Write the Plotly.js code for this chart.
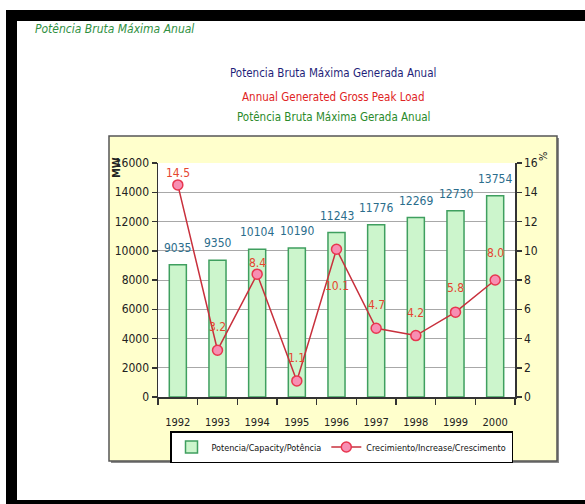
<!DOCTYPE html>
<html>
<head>
<meta charset="utf-8">
<script src="https://cdn.plot.ly/plotly-3.0.1.min.js"></script>
<style>html,body{margin:0;padding:0;background:#fff;}#chart{width:585px;height:504px;}</style>
</head>
<body>
<div id="chart"></div>
<script>
// ---- data ----
var years = ["1992","1993","1994","1995","1996","1997","1998","1999","2000"];
var capacity = [9035, 9350, 10104, 10190, 11243, 11776, 12269, 12730, 13754];
var growth = [14.5, 3.2, 8.4, 1.1, 10.1, 4.7, 4.2, 5.8, 8.0];
var growthLabels = ["14.5","3.2","8.4","1.1","10.1","4.7","4.2","5.8","8.0"];
var capacityName = "Potencia/Capacity/Potência";
var growthName = "Crecimiento/Increase/Crescimento";
var titleLines = ["Potencia Bruta Máxima Generada Anual", "Annual Generated Gross Peak Load", "Potência Bruta Máxima Gerada Anual"];
var headerText = "Potência Bruta Máxima Anual";

// ---- style / layout helpers ----
var W = 585, H = 504;
var L = 158, R = 515, T = 163, B = 397;
function px(x){ return (x - L) / (R - L); }
function py(y){ return (B - y) / (B - T); }
var FONT = "'Liberation Sans Narrow', 'Arial Narrow', 'DejaVu Sans Condensed', 'Liberation Sans', sans-serif";
var labelShift = [12, 23, 11, 23, -37, 23, 23, 24, 27];
var barLabelShift = 17;

function rect(x0, y0, x1, y1, fill, line, lw){
  return {type:'rect', xref:'paper', yref:'paper', layer:'below',
    x0:px(x0), x1:px(x1), y0:py(y1), y1:py(y0),
    fillcolor:fill, line:{color:line||fill, width:lw||0}};
}

var traces = [
  {type:'bar', x:years, y:capacity, name:capacityName,
   marker:{color:'#ccf5cc', line:{color:'#3f9f5f', width:1.5}}},
  {type:'scatter', mode:'lines+markers', x:years, y:growth, yaxis:'y2', name:growthName,
   line:{color:'#c8303c', width:1.5},
   marker:{symbol:'circle', size:10, color:'#f78fb3', line:{color:'#e8364f', width:1.5}},
   cliponaxis:false}
];

var annotations = [];
for (var k = 0; k < years.length; k++) {
  annotations.push({x:k, y:capacity[k], xref:'x', yref:'y', text:String(capacity[k]),
    showarrow:false, yshift:barLabelShift, font:{family:FONT, size:12, color:'#2b6d8c'}});
}
for (var i = 0; i < years.length; i++) {
  annotations.push({x:i, y:growth[i], xref:'x', yref:'y2', text:growthLabels[i],
    showarrow:false, yshift:labelShift[i], font:{family:FONT, size:12, color:'#e5452f'}});
}
var titleColors = ['#1f1f7a', '#e02424', '#2a8a2a'];
var titleY = [73, 97, 117];
for (var j = 0; j < titleLines.length; j++) {
  annotations.push({xref:'paper', yref:'paper', x:px(333), y:py(titleY[j]), text:titleLines[j],
    showarrow:false, xanchor:'center', yanchor:'middle',
    font:{family:FONT, size:11.5, color:titleColors[j]}});
}
annotations.push({xref:'paper', yref:'paper', x:px(33), y:py(29), text:'<i>'+headerText+'</i>',
  showarrow:false, xanchor:'left', yanchor:'middle', font:{family:FONT, size:12, color:'#2f8f3f'}});
annotations.push({xref:'paper', yref:'paper', x:px(116), y:py(168), text:'<b>MW</b>', textangle:-90,
  showarrow:false, xanchor:'center', yanchor:'middle', font:{family:FONT, size:11, color:'#222'}});
annotations.push({xref:'paper', yref:'paper', x:px(543), y:py(157), text:'%', textangle:-90,
  showarrow:false, xanchor:'center', yanchor:'middle', font:{family:FONT, size:11, color:'#222'}});

var shapes = [
  rect(6, 10, 585, 21, '#000'),
  rect(6, 10, 17, 504, '#000'),
  rect(6, 500, 585, 504, '#000'),
  rect(111, 138, 559, 463, '#8a8a8a'),
  rect(109, 136, 557, 461, '#ffffcc', '#555555', 1.5),
  rect(L, T, R, B, '#ffffff')
];

var layout = {
  width:W, height:H,
  margin:{l:L, r:W-R, t:T, b:H-B, pad:0},
  paper_bgcolor:'#ffffff', plot_bgcolor:'rgba(0,0,0,0)',
  font:{family:FONT, size:12, color:'#222'},
  showlegend:true,
  legend:{orientation:'h', x:px(170), y:py(431), xanchor:'left', yanchor:'top',
    bgcolor:'#ffffff', bordercolor:'#000', borderwidth:1.5,
    font:{family:FONT, size:9, color:'#111'}, tracegroupgap:0, itemwidth:30},
  bargap:0.57,
  xaxis:{type:'category', categoryorder:'array', categoryarray:years, range:[-0.5, 8.5], autorange:false,
    showline:true, linecolor:'#333', linewidth:1.5, ticks:'outside', tickson:'boundaries',
    ticklen:6, tickcolor:'#333', tickwidth:1.5, showgrid:false, zeroline:false,
    ticklabelstandoff:14, tickfont:{family:FONT, size:11, color:'#222'}},
  yaxis:{range:[0,16000], autorange:false, dtick:2000, tick0:0, showgrid:true, gridcolor:'#a8a8a8', gridwidth:1,
    showline:true, linecolor:'#333', linewidth:1.5, ticks:'outside', ticklen:5, tickcolor:'#333',
    tickwidth:1.5, zeroline:false, tickformat:'d', tickfont:{family:FONT, size:12, color:'#222'}},
  yaxis2:{overlaying:'y', side:'right', range:[0,16], autorange:false, dtick:2, tick0:0, showgrid:false,
    showline:true, linecolor:'#333', linewidth:1.5, ticks:'outside', ticklen:5, tickcolor:'#333',
    tickwidth:1.5, zeroline:false, tickfont:{family:FONT, size:12, color:'#222'}},
  shapes:shapes, annotations:annotations
};

Plotly.newPlot('chart', traces, layout, {staticPlot:true, displayModeBar:false});
</script>
</body>
</html>
